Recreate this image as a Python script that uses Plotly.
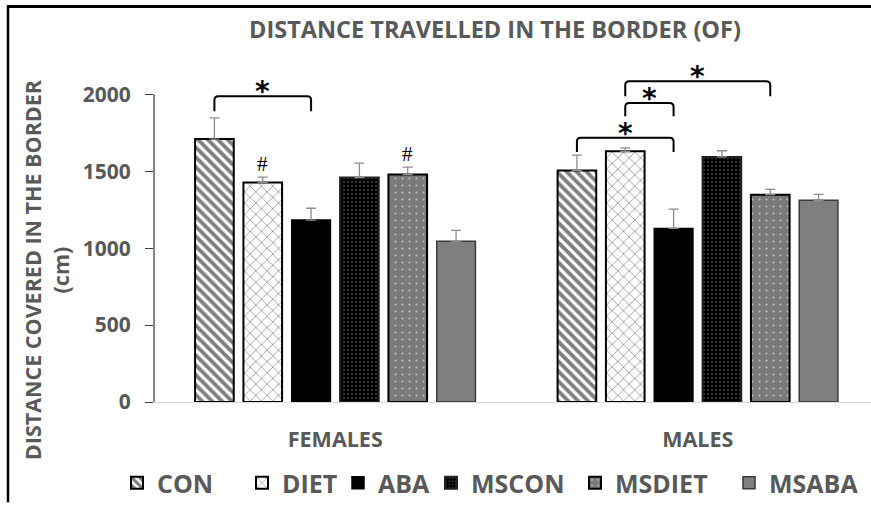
import plotly.graph_objects as go

# ---- data -------------------------------------------------------------
groups = ["FEMALES", "MALES"]
series = ["CON", "DIET", "ABA", "MSCON", "MSDIET", "MSABA"]

con_mean = [1710, 1505]
con_sem = [137, 101]
diet_mean = [1428, 1630]
diet_sem = [34, 22]
aba_mean = [1183, 1129]
aba_sem = [77, 125]
mscon_mean = [1460, 1594]
mscon_sem = [93, 40]
msdiet_mean = [1479, 1348]
msdiet_sem = [48, 35]
msaba_mean = [1045, 1312]
msaba_sem = [71, 38]

means = [con_mean, diet_mean, aba_mean, mscon_mean, msdiet_mean, msaba_mean]
sems = [con_sem, diet_sem, aba_sem, mscon_sem, msdiet_sem, msaba_sem]

# significance brackets: (group, bar a, bar b, bracket top, leg bottom)
brackets = [
    (0, 0, 2, 1989, 1890),
    (1, 0, 2, 1718, 1626),
    (1, 1, 2, 1944, 1858),
    (1, 1, 4, 2086, 1989),
]
# "#" marks: (group, bar)
hash_marks = [(0, 1), (0, 4)]

y_ticks = [0, 500, 1000, 1500, 2000]

# ---- styling ------------------------------------------------------------
GRAY_TXT = "#595959"
FONT = "Open Sans"
W, H = 871, 506
ML, MR, MT, MB = 154, 0, 56, 101
Y_MAX = 2250
BARGAP = 0.2
N = len(series)
SLOT = (1 - BARGAP) / N
X_RANGE = [-0.5, -0.5 + (W - ML - MR) / 362.5]

styles = [
    dict(color="white", line=dict(color="black", width=2),
         pattern=dict(shape="\\", fgcolor="black", bgcolor="white", size=7, solidity=0.55)),
    dict(color="white", line=dict(color="black", width=2),
         pattern=dict(shape="x", fgcolor="black", bgcolor="white", size=8, solidity=0.16)),
    dict(color="black", line=dict(color="black", width=1.5)),
    dict(color="black", line=dict(color="#222222", width=2),
         pattern=dict(shape=".", fgcolor="white", bgcolor="black", size=4, solidity=0.12)),
    dict(color="#7a7a7a", line=dict(color="black", width=2),
         pattern=dict(shape=".", fgcolor="white", bgcolor="#7a7a7a", size=7, solidity=0.08)),
    dict(color="#7f7f7f", line=dict(color="#3a3a3a", width=1.5)),
]

legend_box_left = [131, 256, 352, 445, 589, 743]


def px_x(p):
    return (p - ML) / (W - ML - MR)


def px_y(p):
    return (H - MB - p) / (H - MT - MB)


def bar_center(g, i):
    return g - (1 - BARGAP) / 2 + SLOT * (i + 0.5)


fig = go.Figure()
for k, name in enumerate(series):
    lg = "legend" if k == 0 else f"legend{k + 1}"
    fig.add_trace(go.Bar(
        name=name, x=groups, y=means[k],
        marker=styles[k],
        error_y=dict(type="data", array=sems[k], arrayminus=[0] * len(groups),
                     symmetric=False, color="#8c8c8c", thickness=1.3, width=5),
        legend=lg,
    ))

shapes = []
annotations = []

# y axis line drawn only up to the top tick
shapes.append(dict(type="line", xref="x domain", yref="y", x0=0, x1=0,
                   y0=0, y1=max(y_ticks), line=dict(color="#404040", width=1.3)))

# significance brackets with rounded corners
rx, ry = 0.011, 25
for g, a, b, top, bottom in brackets:
    x0, x1 = bar_center(g, a), bar_center(g, b)
    path = (f"M {x0},{bottom} L {x0},{top - ry} Q {x0},{top} {x0 + rx},{top} "
            f"L {x1 - rx},{top} Q {x1},{top} {x1},{top - ry} L {x1},{bottom}")
    shapes.append(dict(type="path", xref="x", yref="y", path=path,
                       line=dict(color="black", width=2)))
    annotations.append(dict(x=(x0 + x1) / 2, y=top + 30, xref="x", yref="y",
                            text="*", showarrow=False, yanchor="middle",
                            font=dict(family="DejaVu Sans", size=28, color="black", weight="bold")))

for g, i in hash_marks:
    annotations.append(dict(x=bar_center(g, i), y=means[i][g] + sems[i][g] - 5,
                            xref="x", yref="y", text="#", showarrow=False,
                            yanchor="bottom",
                            font=dict(family="Liberation Serif", size=21, color="black")))

# y axis title
annotations.append(dict(xref="paper", yref="paper", x=px_x(46), y=px_y(272),
                        text="DISTANCE COVERED IN THE BORDER<br>(cm)",
                        textangle=-90, showarrow=False,
                        xanchor="center", yanchor="middle",
                        font=dict(family=FONT, size=21.5, color=GRAY_TXT, weight="bold")))

# outer frame (top and left edges)
shapes.append(dict(type="line", xref="paper", yref="paper",
                   x0=px_x(7), x1=px_x(W), y0=px_y(6), y1=px_y(6),
                   line=dict(color="black", width=3)))
shapes.append(dict(type="line", xref="paper", yref="paper",
                   x0=px_x(8), x1=px_x(8), y0=px_y(5), y1=px_y(H),
                   line=dict(color="black", width=2.5)))

legends = {}
for k in range(N):
    key = "legend" if k == 0 else f"legend{k + 1}"
    legends[key] = dict(
        x=px_x(legend_box_left[k] - 14), xanchor="left",
        y=px_y(487), yanchor="middle", orientation="h",
        bgcolor="rgba(0,0,0,0)", borderwidth=0,
        font=dict(family=FONT, size=25, color=GRAY_TXT, weight="bold"),
        itemwidth=30,
    )

fig.update_layout(
    width=W, height=H,
    margin=dict(l=ML, r=MR, t=MT, b=MB, pad=0),
    paper_bgcolor="white", plot_bgcolor="white",
    barmode="group", bargap=BARGAP, bargroupgap=0.2,
    title=dict(text="DISTANCE TRAVELLED IN THE BORDER (OF)",
               x=495 / W, y=1 - 30 / H, xanchor="center", yanchor="middle",
               font=dict(family=FONT, size=23.5, color=GRAY_TXT, weight="bold")),
    xaxis=dict(range=X_RANGE, showline=True, linecolor="#d9d9d9", linewidth=1.3,
               ticks="", showgrid=False, zeroline=False,
               tickfont=dict(family=FONT, size=21.5, color=GRAY_TXT, weight="bold"),
               ticklabelstandoff=18),
    yaxis=dict(range=[0, Y_MAX], tickvals=y_ticks, showline=False,
               ticks="outside", ticklen=8, tickcolor="#404040", tickwidth=1.3,
               showgrid=False, zeroline=False,
               tickfont=dict(family=FONT, size=21, color=GRAY_TXT, weight="bold"),
               ticklabelstandoff=10),
    shapes=shapes, annotations=annotations,
    showlegend=True,
    **legends,
)

fig.write_html("out.html")
